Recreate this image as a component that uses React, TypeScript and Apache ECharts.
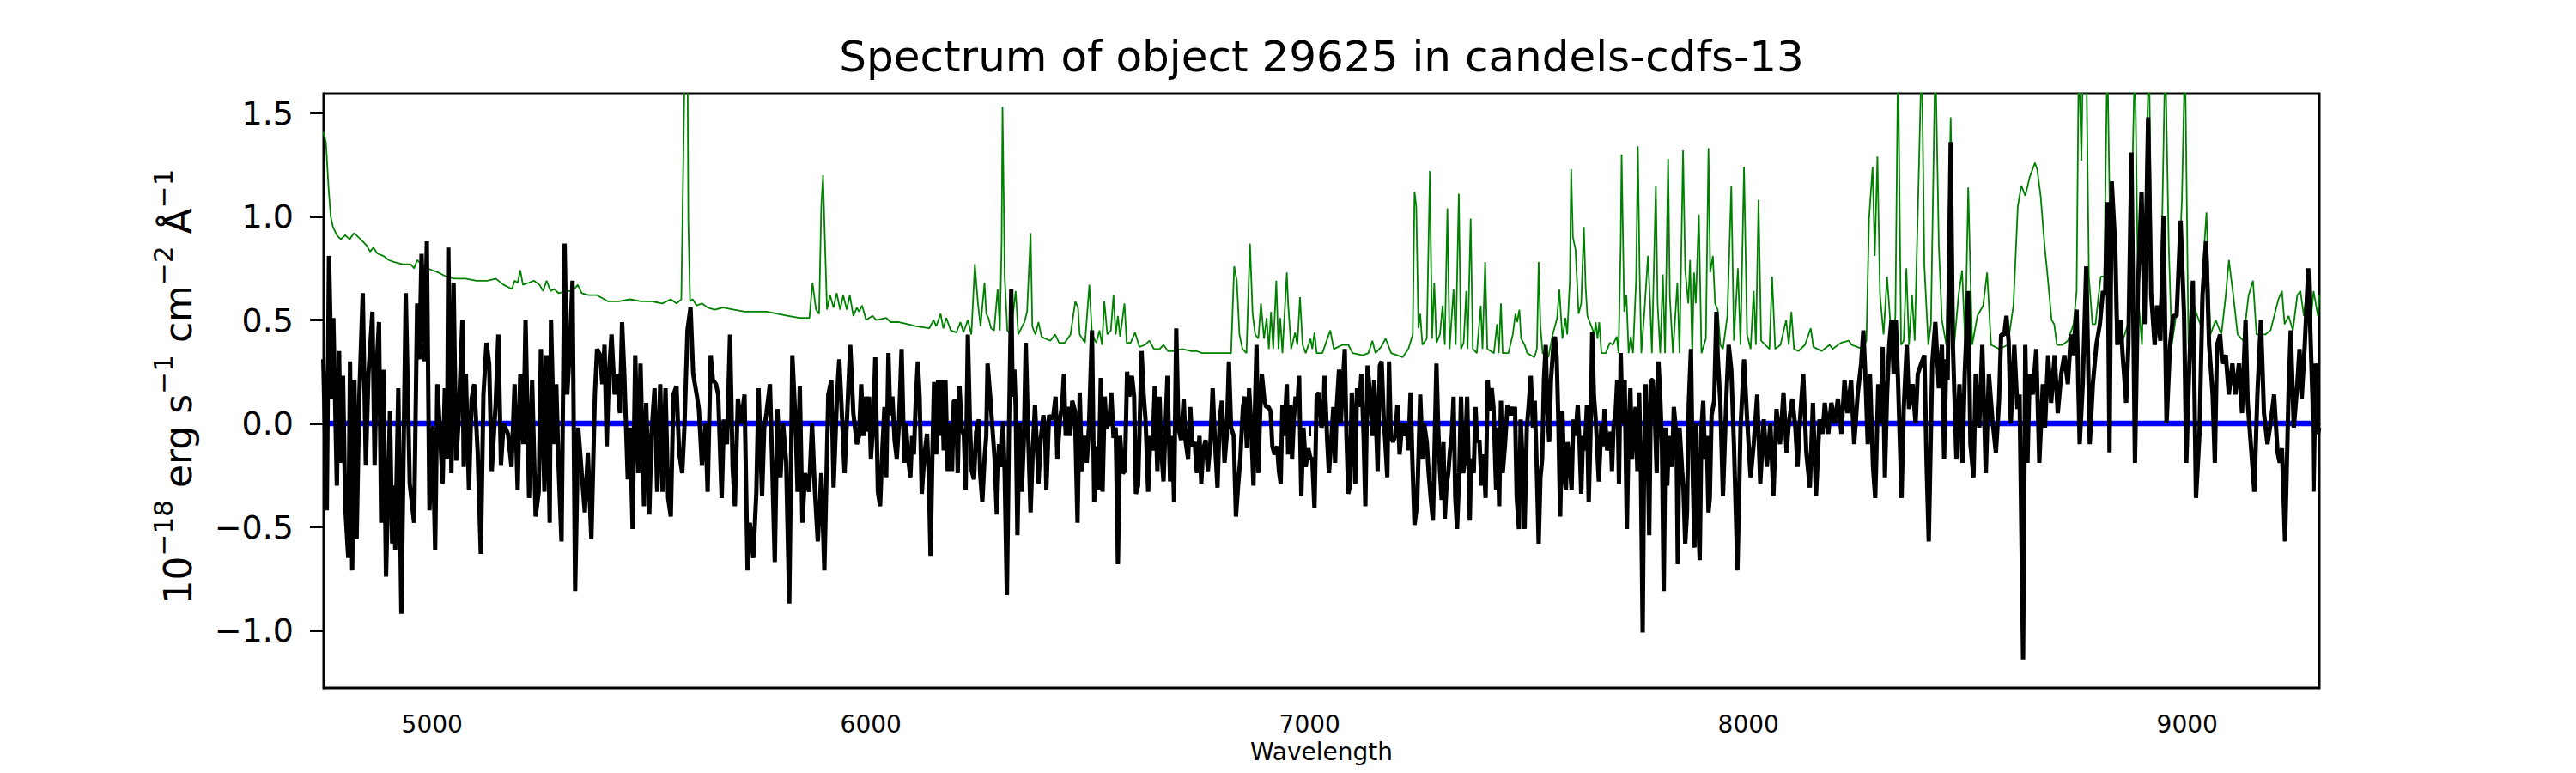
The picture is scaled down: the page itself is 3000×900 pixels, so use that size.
import React, { useEffect, useRef } from 'react';
import * as echarts from 'echarts';

const FONT = 'DejaVu Sans';
const titleText = 'Spectrum of object 29625 in candels-cdfs-13';
const xName = 'Wavelength';
const xTicks = [5000, 6000, 7000, 8000, 9000];
const yTicks = [-1, -0.5, 0, 0.5, 1, 1.5];
const xRange = [4753, 9301];
const yRange = [-1.278, 1.594];

// zero reference line
const zeroLine: [number, number][] = [[4753, 0], [9301, 0]];

// green (sky / noise) spectrum
const skySpectrum: [number, number][] = [
  [4752,1.41],[4758,1.36],[4764,1.14],[4769,1.0],[4774,0.95],[4783,0.91],[4792,0.89],[4802,0.91],[4812,0.89],[4822,0.92],
  [4832,0.9],[4842,0.88],[4851,0.86],[4859,0.83],[4866,0.85],[4876,0.82],[4889,0.81],[4901,0.79],[4914,0.78],[4933,0.77],
  [4951,0.77],[4959,0.75],[4966,0.79],[4976,0.77],[4989,0.75],[5001,0.74],[5014,0.73],[5032,0.71],[5051,0.7],[5076,0.7],
  [5101,0.69],[5126,0.69],[5145,0.7],[5163,0.67],[5182,0.65],[5188,0.69],[5195,0.68],[5201,0.74],[5207,0.67],[5220,0.68],
  [5232,0.69],[5245,0.67],[5253,0.64],[5261,0.69],[5270,0.64],[5278,0.65],[5288,0.63],[5307,0.64],[5320,0.64],[5332,0.67],
  [5341,0.63],[5357,0.62],[5376,0.62],[5401,0.59],[5426,0.59],[5451,0.6],[5476,0.59],[5500,0.59],[5525,0.58],[5544,0.6],
  [5557,0.58],[5568,0.6],[5573,1.33],[5576,1.8],[5582,1.8],[5584,0.98],[5588,0.59],[5594,0.6],[5603,0.57],[5615,0.58],
  [5628,0.56],[5644,0.55],[5663,0.56],[5688,0.55],[5713,0.54],[5738,0.54],[5762,0.54],[5787,0.53],[5812,0.52],[5837,0.51],
  [5860,0.51],[5867,0.68],[5875,0.55],[5882,0.53],[5887,1.05],[5891,1.2],[5895,0.9],[5900,0.55],[5907,0.62],[5915,0.56],
  [5922,0.63],[5930,0.55],[5937,0.62],[5945,0.55],[5952,0.62],[5960,0.52],[5968,0.56],
  [5973,0.54],[5980,0.57],[5989,0.5],[6004,0.52],[6012,0.5],[6035,0.51],[6045,0.49],[6064,0.49],[6084,0.48],[6103,0.47],
  [6133,0.46],[6143,0.5],[6149,0.47],[6159,0.53],[6165,0.46],[6172,0.51],[6182,0.45],[6195,0.44],[6204,0.49],[6211,0.44],
  [6221,0.5],[6229,0.43],[6237,0.77],[6244,0.58],[6250,0.47],[6259,0.68],[6263,0.53],[6268,0.51],[6274,0.46],[6281,0.45],
  [6289,0.65],[6294,0.45],[6298,0.88],[6300,1.53],[6303,1.07],[6305,0.71],[6311,0.45],[6319,0.43],[6330,0.64],[6336,0.43],
  [6345,0.47],[6350,0.49],[6356,0.54],[6364,0.92],[6368,0.47],[6375,0.43],[6382,0.49],[6389,0.42],[6397,0.41],[6409,0.4],
  [6420,0.43],[6429,0.39],[6442,0.39],[6455,0.43],[6466,0.59],[6472,0.56],[6476,0.43],[6488,0.39],[6498,0.67],[6504,0.43],
  [6514,0.39],[6521,0.45],[6527,0.38],[6532,0.59],[6539,0.43],[6547,0.45],[6553,0.62],[6558,0.43],[6563,0.52],[6568,0.42],
  [6578,0.58],[6583,0.39],[6592,0.39],[6602,0.44],[6612,0.37],[6625,0.38],[6635,0.4],[6645,0.36],[6658,0.36],[6667,0.38],
  [6677,0.35],[6690,0.35],[6710,0.36],[6729,0.35],[6742,0.35],[6755,0.34],[6788,0.34],[6821,0.34],[6828,0.76],[6834,0.69],
  [6840,0.43],[6847,0.36],[6856,0.34],[6864,0.87],[6870,0.53],[6876,0.43],[6883,0.41],[6889,0.58],[6896,0.41],[6902,0.51],
  [6907,0.36],[6912,0.54],[6917,0.36],[6924,0.69],[6929,0.36],[6933,0.51],[6938,0.34],[6948,0.73],
  [6951,0.58],[6958,0.36],[6967,0.44],[6972,0.38],[6978,0.61],[6984,0.38],[6991,0.34],[7002,0.41],[7006,0.36],[7011,0.44],
  [7016,0.34],[7029,0.34],[7047,0.45],[7055,0.36],[7065,0.37],[7075,0.38],[7088,0.38],[7098,0.34],[7121,0.33],[7134,0.34],
  [7143,0.4],[7150,0.34],[7163,0.37],[7173,0.41],[7186,0.34],[7212,0.32],[7225,0.36],[7235,0.43],[7239,1.12],[7243,1.05],
  [7248,0.46],[7252,0.53],[7257,0.38],[7267,0.41],[7274,1.22],[7279,0.41],[7284,0.68],[7289,0.39],[7297,0.43],[7303,0.57],
  [7308,0.38],[7314,1.04],[7319,0.36],[7328,0.65],[7333,0.38],[7340,1.11],[7345,0.36],[7351,0.39],[7357,0.64],[7360,0.36],
  [7367,0.99],[7372,0.36],[7381,0.34],[7390,0.57],[7394,0.36],[7400,0.78],[7405,0.36],[7420,0.34],[7427,0.48],[7431,0.34],
  [7436,0.58],[7440,0.34],[7453,0.34],[7463,0.43],[7469,0.53],[7473,0.49],[7478,0.55],[7482,0.41],[7490,0.38],[7496,0.34],
  [7512,0.32],[7518,0.36],[7522,0.78],[7526,0.47],[7531,0.34],[7544,0.32],[7554,0.43],[7564,0.51],[7569,0.65],[7576,0.41],
  [7583,0.51],[7587,0.43],[7593,0.69],[7596,1.23],[7600,0.9],[7606,0.84],[7613,0.53],[7619,0.58],[7625,0.95],[7629,0.66],
  [7633,0.52],[7642,0.47],[7649,0.43],[7652,0.49],[7656,0.41],[7660,0.49],[7665,0.34],[7675,0.34],[7684,0.39],[7691,0.38],
  [7700,0.42],[7704,0.34],[7709,0.88],[7711,1.3],[7717,0.54],[7722,0.62],[7727,0.34],[7732,0.42],[7737,0.34],[7744,0.69],
  [7748,1.34],[7752,0.73],[7756,0.34],[7763,0.54],[7771,0.81],[7776,0.58],[7780,0.34],[7789,1.15],[7793,0.58],[7799,0.34],
  [7805,0.72],[7810,0.34],[7817,1.28],[7821,0.61],[7828,0.34],[7838,0.68],[7843,0.34],[7851,1.32],[7856,0.74],[7863,0.58],
  [7867,0.79],[7872,0.34],[7876,0.73],[7880,0.58],[7887,1.01],[7893,0.34],[7903,0.41],[7909,1.33],[7913,0.73],[7919,0.81],
  [7924,0.58],
  [7930,0.55],[7936,0.38],[7942,0.36],[7952,0.52],[7961,1.15],[7967,0.4],[7976,0.75],[7982,0.38],[7990,1.24],[7997,0.43],
  [8005,0.36],[8012,0.64],[8017,0.38],[8023,1.08],[8029,0.4],[8048,0.36],[8054,0.71],[8061,0.36],[8073,0.38],[8086,0.5],
  [8092,0.38],[8098,0.54],[8104,0.36],[8114,0.35],[8129,0.38],[8142,0.46],[8148,0.37],[8167,0.35],[8185,0.38],[8192,0.36],
  [8211,0.39],[8229,0.4],[8235,0.38],[8248,0.37],[8260,0.36],[8269,0.4],[8275,0.99],[8283,1.24],[8288,0.81],[8294,1.29],
  [8300,0.62],[8308,0.43],[8316,0.71],[8323,0.5],[8329,0.38],[8335,0.52],[8341,1.8],[8348,0.38],[8354,0.4],[8360,0.75],
  [8366,0.38],[8373,0.62],[8379,0.4],[8395,1.8],[8401,0.76],[8410,0.38],[8416,0.48],[8426,1.8],[8434,0.86],[8441,0.5],
  [8451,0.38],[8461,1.48],[8469,0.38],[8479,0.62],[8487,0.74],[8494,0.38],[8501,1.14],[8510,0.38],[8522,0.52],[8535,0.57],
  [8544,0.73],[8553,0.38],[8572,0.36],[8591,0.38],[8604,0.57],[8614,1.05],[8622,1.15],[8631,1.1],[8641,1.19],[8653,1.26],
  [8658,1.23],[8666,1.1],[8675,0.86],[8682,0.71],[8691,0.5],[8697,0.48],[8703,0.38],[8716,0.38],[8728,0.4],[8741,0.48],
  [8748,0.64],[8753,1.8],[8759,1.27],[8763,1.8],[8770,1.8],[8776,0.71],[8784,0.48],[8791,0.48],[8803,0.71],[8811,0.71],
  [8818,1.8],[8826,0.67],[8831,1.17],[8838,0.38],[8853,0.4],[8868,0.5],[8881,1.8],[8888,0.62],[8897,0.38],[8903,0.9],
  [8913,1.8],[8920,0.57],[8928,0.38],[8940,0.62],[8950,1.8],[8958,0.86],[8965,0.38],[8978,0.57],[8988,1.08],[8995,1.8],
  [9003,0.38],[9015,0.57],[9023,0.52],[9030,0.48],[9035,0.73],[9044,1.02],[9053,0.43],[9065,0.5],[9078,0.43],[9088,0.62],
  [9095,0.79],[9105,0.62],[9115,0.43],[9128,0.4],[9140,0.62],[9150,0.69],[9158,0.43],[9178,0.43],[9190,0.45],[9208,0.6],
  [9216,0.64],[9222,0.48],[9231,0.52],[9241,0.45],[9251,0.62],[9258,0.64],[9266,0.52],[9276,0.71],[9281,0.48],[9288,0.64],
  [9298,0.52],[9301,0.62]
];

// black (object) spectrum
const objectSpectrum: [number, number][] = [
  [4752,0.31],[4760,-0.42],[4765,0.81],[4772,0.12],[4775,0.51],[4783,-0.3],[4788,0.35],[4792,-0.19],[4797,0.23],[4802,-0.4],
  [4809,-0.65],[4813,0.3],[4818,-0.71],[4823,0.21],[4828,-0.56],[4834,0.12],[4842,0.63],[4849,-0.2],[4855,0.24],[4864,0.54],
  [4869,-0.2],[4874,0.29],[4879,0.49],[4884,-0.48],[4889,0.26],[4895,-0.74],[4904,0.06],[4909,-0.58],[4913,-0.3],[4916,-0.61],
  [4923,0.17],[4930,-0.92],[4940,0.63],[4949,-0.29],[4959,-0.48],[4966,0.58],[4971,0.31],[4976,0.82],[4983,0.3],[4988,0.88],
  [4994,-0.42],[5001,-0.02],[5007,-0.61],[5012,0.19],[5017,0.0],[5024,-0.29],[5029,0.17],[5034,-0.17],[5037,0.85],[5044,-0.24],
  [5049,0.68],[5055,-0.18],[5060,0.0],[5069,0.5],[5072,-0.21],[5077,0.24],[5084,-0.32],[5090,0.12],[5096,0.19],[5104,-0.14],
  [5111,-0.63],[5117,0.14],[5124,0.39],[5130,0.29],[5136,-0.23],[5145,0.1],[5151,0.43],[5157,-0.2],[5163,0.0],[5173,-0.05],
  [5181,-0.21],[5188,0.19],[5195,-0.32],[5201,0.24],[5208,-0.1],[5213,0.5],[5221,-0.36],[5228,0.21],[5236,-0.45],[5243,-0.33],
  [5248,0.36],[5256,-0.33],[5261,0.33],[5263,0.12],[5268,-0.48],[5271,0.5],[5278,-0.1],[5283,0.19],[5288,-0.19],[5295,-0.57],
  [5302,0.87],[5308,0.14],[5313,0.33],[5320,0.69],[5326,-0.81],[5333,-0.02],[5341,-0.24],[5348,-0.43],[5355,-0.14],[5363,-0.56],
  [5371,0.14],[5376,0.36],[5383,0.33],[5388,0.19],[5393,0.38],[5398,-0.11],[5403,0.24],[5409,0.43],[5416,0.14],[5421,0.24],
  [5428,0.05],[5433,0.49],[5438,0.24],[5446,-0.27],[5451,-0.02],[5457,-0.51],[5463,0.33],[5470,-0.24],[5475,0.29],[5483,-0.4],
  [5488,0.1],[5495,-0.44],[5500,-0.05],[5507,0.17],[5513,-0.33],[5520,0.19],[5525,-0.33],[5532,0.17],[5538,-0.36],[5544,-0.45],
  [5550,0.14],[5557,0.18],[5563,-0.14],[5570,-0.24],[5575,-0.02],[5582,0.45],[5589,0.56],[5595,0.24],[5603,0.14],[5608,0.07],
  [5615,-0.2],[5623,0.0],[5628,-0.33],[5635,0.33],[5640,0.21],[5647,0.19],[5652,0.14],[5660,-0.36],[5665,0.02],[5672,-0.1],
  [5679,0.43],[5685,-0.21],[5690,-0.4],[5697,0.12],[5704,0.0],[5712,0.14],[5719,-0.71],[5724,-0.48],[5732,-0.65],[5739,-0.33],
  [5744,0.17],[5752,-0.35],[5757,-0.02],[5762,0.05],[5770,0.19],[5775,-0.19],[5781,-0.67],[5787,0.07],[5794,-0.26],[5800,0.0],
  [5807,-0.19],[5814,-0.87],[5821,0.33],[5828,0.02],[5833,-0.33],[5838,0.18],[5844,-0.48],[5850,-0.24],[5859,-0.33],[5866,0.0],
  [5872,-0.31],[5879,-0.57],[5887,-0.24],[5894,-0.71],[5903,0.14],[5910,0.21],[5915,-0.31],[5923,0.14],[5928,0.31],[5935,0.0],
  [5940,-0.24],[5948,0.14],[5953,0.38],[5960,0.05],[5968,-0.1],
  [5973,-0.06],[5978,0.19],[5983,-0.06],[5987,0.13],[5991,-0.04],[5996,0.13],[6000,-0.17],[6005,-0.02],[6010,0.32],[6016,-0.33],
  [6021,-0.4],[6026,-0.13],[6031,0.08],[6035,-0.26],[6040,0.34],[6044,0.04],[6049,0.13],[6054,-0.08],[6059,-0.17],[6064,0.0],
  [6070,0.36],[6076,-0.19],[6080,0.0],[6085,-0.17],[6090,-0.26],[6094,-0.06],[6098,-0.15],[6102,0.09],[6107,0.3],[6111,0.13],
  [6116,-0.34],[6122,-0.15],[6128,-0.05],[6132,-0.26],[6136,-0.64],[6140,-0.17],[6144,0.2],[6149,-0.15],[6153,0.21],[6157,-0.06],
  [6162,0.21],[6166,-0.13],[6170,0.21],[6175,-0.23],[6180,0.0],[6185,-0.23],[6189,0.11],[6194,0.11],[6198,-0.24],[6202,0.18],
  [6207,-0.02],[6212,-0.06],[6216,-0.32],[6221,0.43],[6226,-0.02],[6230,-0.23],[6235,-0.27],[6240,-0.04],[6246,0.02],[6249,-0.24],
  [6254,-0.38],[6259,-0.17],[6263,-0.06],[6266,0.29],[6272,0.13],[6277,-0.02],[6282,-0.17],[6287,-0.44],[6292,-0.1],[6297,-0.21],
  [6301,0.01],[6305,-0.24],[6310,-0.83],[6315,0.0],[6320,0.65],[6323,0.13],[6327,0.26],[6330,0.08],[6334,-0.54],[6339,0.0],
  [6344,-0.33],[6349,-0.06],[6353,0.39],[6359,-0.09],[6364,-0.43],[6369,-0.13],[6374,0.09],[6378,-0.09],[6382,-0.29],[6387,-0.08],
  [6393,0.04],[6397,-0.02],[6400,-0.32],[6406,0.04],[6411,0.02],[6416,0.04],[6421,0.13],[6425,-0.17],[6431,0.02],[6436,0.09],
  [6440,0.24],[6444,-0.06],[6449,0.08],[6454,-0.06],[6459,0.11],[6465,0.06],[6471,-0.48],[6476,0.15],[6481,-0.23],[6486,-0.06],
  [6492,-0.19],[6497,-0.02],[6504,0.45],[6509,-0.38],[6514,-0.11],[6519,-0.32],[6524,0.22],[6528,-0.33],[6533,0.13],[6537,-0.02],
  [6543,0.0],[6548,0.15],[6553,-0.07],[6558,-0.02],[6563,-0.68],[6568,-0.06],[6574,-0.24],[6579,-0.23],[6584,0.25],[6589,0.13],
  [6595,0.23],[6600,0.13],[6604,-0.34],[6609,-0.3],[6613,0.02],[6617,0.35],[6622,0.13],[6626,0.02],[6632,-0.33],[6637,-0.06],
  [6642,-0.13],[6647,0.18],[6653,-0.23],[6658,0.13],[6662,-0.13],[6667,-0.28],[6671,-0.04],[6676,0.23],[6682,-0.28],[6687,-0.06],
  [6691,-0.38],[6696,0.46],[6701,-0.02],[6707,-0.08],[6713,0.12],[6717,-0.08],[6723,-0.17],[6728,0.08],[6733,-0.11],[6738,-0.09],
  [6743,-0.24],[6749,-0.06],[6753,-0.29],[6757,-0.13],[6763,-0.08],[6768,-0.23],[6774,-0.09],[6779,0.17],[6784,-0.08],[6790,-0.31],
  [6795,0.02],[6800,0.11],[6806,-0.19],[6811,-0.06],[6816,0.3],[6821,-0.02],[6827,-0.06],[6832,-0.45],[6837,-0.3],[6842,-0.17],
  [6848,0.08],[6852,0.13],[6857,-0.12],[6862,0.17],[6866,0.02],[6872,-0.3],[6876,0.13],[6879,0.38],[6883,-0.24],[6887,0.04],
  [6891,0.24],[6897,0.11],[6901,0.08],[6906,0.08],[6911,0.06],[6915,-0.11],[6920,-0.15],[6926,-0.11],[6930,-0.23],[6934,-0.29],
  [6938,0.09],[6942,-0.06],[6948,0.19],
  [6951,-0.15],[6956,0.09],[6960,-0.17],[6964,0.02],[6968,0.13],[6972,0.08],[6976,0.23],[6981,-0.35],[6986,-0.02],[6991,-0.21],
  [6997,-0.12],[7002,-0.17],[7006,-0.17],[7011,-0.41],[7016,0.13],[7021,0.15],[7027,-0.02],[7031,0.02],[7034,0.23],[7040,-0.08],
  [7044,-0.24],[7049,-0.09],[7054,0.08],[7058,-0.19],[7062,0.09],[7067,0.26],[7071,0.0],[7075,0.17],[7080,0.36],[7084,-0.06],
  [7088,-0.34],[7092,-0.3],[7096,0.15],[7100,-0.02],[7104,-0.29],[7108,0.17],[7113,0.08],[7118,0.24],[7123,-0.06],[7127,-0.4],
  [7132,0.28],[7138,0.13],[7143,-0.06],[7147,0.21],[7151,0.02],[7155,-0.23],[7160,0.28],[7164,0.3],[7169,0.02],[7173,-0.11],
  [7177,-0.26],[7181,0.3],[7185,-0.06],[7190,-0.09],[7195,-0.06],[7200,0.09],[7205,-0.15],[7211,0.0],[7216,-0.06],[7221,0.0],
  [7225,-0.13],[7230,0.15],[7234,-0.17],[7239,-0.49],[7245,-0.39],[7248,-0.17],[7252,0.14],[7258,-0.17],[7261,0.0],[7267,-0.09],
  [7271,-0.23],[7276,-0.36],[7281,-0.47],[7285,-0.09],[7289,0.29],[7293,-0.02],[7297,-0.23],[7301,-0.37],[7305,-0.09],[7308,-0.46],
  [7312,-0.3],[7316,-0.24],[7320,-0.13],[7324,-0.06],[7328,0.13],[7332,-0.36],[7336,-0.51],[7341,-0.24],[7345,0.13],[7350,-0.24],
  [7354,-0.17],[7359,0.13],[7365,-0.47],[7368,-0.17],[7374,-0.24],[7378,0.08],[7382,-0.09],[7387,-0.08],[7392,-0.3],[7396,-0.15],
  [7401,-0.36],[7406,0.21],[7410,0.06],[7415,0.17],[7419,0.08],[7425,-0.32],[7428,-0.02],[7432,-0.4],[7436,0.11],[7440,-0.24],
  [7445,-0.11],[7451,0.09],[7456,0.04],[7460,0.08],[7464,0.04],[7468,0.08],[7472,-0.36],[7477,-0.51],[7481,0.02],[7485,-0.17],
  [7490,-0.51],[7495,-0.02],[7499,0.08],[7504,0.23],[7509,-0.02],[7513,0.11],[7517,-0.17],[7522,-0.58],[7526,-0.26],[7530,-0.17],
  [7534,0.21],[7538,0.38],[7542,0.06],[7546,-0.09],[7550,0.21],[7555,0.36],[7559,0.42],[7563,0.32],[7567,0.0],[7571,-0.45],
  [7576,0.06],[7580,-0.24],[7584,-0.32],[7588,-0.09],[7592,-0.17],[7597,-0.32],[7601,0.02],[7606,-0.06],[7611,0.09],[7615,-0.09],
  [7619,-0.34],[7623,-0.06],[7627,-0.13],[7632,0.09],[7636,-0.38],[7640,-0.06],[7644,0.44],[7648,0.13],[7652,0.02],[7656,-0.15],
  [7659,-0.28],[7665,0.0],[7669,-0.11],[7672,0.07],[7678,-0.13],[7682,-0.09],[7686,-0.04],[7689,-0.23],[7693,0.0],[7697,0.04],
  [7701,0.21],[7705,-0.29],[7709,0.34],[7713,0.0],[7718,0.21],[7723,-0.51],[7727,-0.04],[7731,0.17],[7735,-0.17],[7739,0.0],
  [7743,0.08],[7747,-0.23],[7751,0.15],[7755,-0.24],[7759,-1.01],[7762,-0.24],[7766,0.19],[7770,-0.06],[7774,-0.54],[7778,0.21],
  [7782,0.21],[7786,0.08],[7791,-0.24],[7795,0.3],[7799,0.13],[7803,-0.11],[7807,-0.81],[7811,-0.02],[7815,-0.3],[7819,-0.06],
  [7822,-0.13],[7826,-0.21],[7830,0.08],[7836,-0.06],[7839,-0.68],[7843,-0.02],[7849,-0.23],[7852,-0.32],[7856,-0.58],[7860,-0.43],
  [7864,0.09],[7869,0.36],[7873,-0.23],[7877,-0.6],[7881,0.0],[7885,-0.43],[7889,-0.66],[7893,-0.02],[7897,0.11],[7901,-0.17],
  [7905,-0.06],[7909,-0.43],[7912,-0.36],[7916,0.04],[7922,0.11],[7927,0.54],
  [7930,0.33],[7936,0.1],[7942,-0.35],[7950,0.14],[7955,0.38],[7961,0.26],[7967,-0.1],[7975,-0.71],[7982,-0.02],[7990,0.31],
  [7997,0.02],[8005,-0.26],[8012,-0.1],[8020,0.14],[8027,-0.29],[8035,0.02],[8042,-0.21],[8050,0.0],[8057,-0.35],[8064,0.07],
  [8072,-0.1],[8080,0.15],[8087,-0.14],[8092,0.0],[8100,0.12],[8107,-0.02],[8112,-0.21],[8117,0.0],[8125,0.24],[8132,-0.14],
  [8140,-0.31],[8147,0.1],[8154,-0.35],[8162,0.02],[8169,-0.05],[8174,0.1],[8182,-0.05],[8189,0.1],[8197,0.0],[8204,0.12],
  [8212,-0.05],[8219,0.21],[8226,0.05],[8234,0.21],[8241,-0.1],[8249,0.14],[8257,0.29],[8262,0.45],[8267,0.21],[8272,-0.1],
  [8277,0.24],[8284,-0.21],[8289,-0.36],[8296,0.19],[8301,0.0],[8306,0.37],[8311,-0.26],[8316,0.14],[8321,0.38],[8326,0.5],
  [8331,0.24],[8336,0.5],[8341,0.21],[8349,-0.36],[8354,0.07],[8361,0.38],[8366,0.07],[8374,0.19],[8381,0.0],[8386,0.24],
  [8394,0.29],[8401,0.33],[8406,-0.19],[8411,-0.57],[8419,0.29],[8426,0.49],[8434,0.17],[8441,0.38],[8446,-0.17],[8451,0.31],
  [8454,0.21],[8461,1.36],[8466,0.38],[8474,-0.17],[8481,0.19],[8488,-0.19],[8493,0.24],[8501,0.64],[8506,-0.1],[8513,-0.26],
  [8518,0.24],[8526,-0.02],[8533,0.38],[8541,-0.24],[8548,0.24],[8556,0.02],[8564,-0.14],[8571,0.1],[8576,0.43],[8583,0.43],
  [8588,0.52],[8593,0.4],[8598,0.0],[8606,0.38],[8613,0.07],[8618,0.14],[8626,-1.14],[8631,0.38],[8636,-0.19],[8641,0.24],
  [8648,0.14],[8656,0.36],[8663,-0.19],[8671,0.19],[8676,-0.02],[8683,0.33],[8690,0.1],[8698,0.33],[8705,0.05],[8713,0.24],
  [8720,0.33],[8728,0.19],[8735,0.43],[8740,0.33],[8748,0.55],[8755,-0.1],[8762,0.19],[8770,0.76],[8778,-0.1],[8785,0.19],
  [8793,0.38],[8801,0.48],[8808,0.64],[8813,0.62],[8818,1.07],[8823,-0.14],[8828,1.17],[8836,0.86],[8841,0.38],[8848,0.5],
  [8853,0.33],[8861,0.1],[8866,0.38],[8873,1.31],[8881,-0.19],[8888,0.67],[8896,1.12],[8903,0.48],[8911,1.48],[8918,0.62],
  [8926,0.38],[8931,0.57],[8939,0.4],[8946,1.0],[8953,0.0],[8961,0.38],[8968,0.52],[8976,0.52],[8985,0.98],[8993,0.52],
  [8998,-0.19],[9005,0.29],[9013,0.69],[9020,-0.36],[9028,-0.05],[9035,0.62],[9043,0.88],[9050,0.38],[9058,0.14],[9063,-0.19],
  [9068,0.38],[9075,0.43],[9080,0.29],[9088,0.33],[9095,0.14],[9103,0.29],[9110,0.14],[9118,0.29],[9125,0.05],[9133,0.5],
  [9138,0.1],[9145,-0.1],[9153,-0.33],[9160,0.14],[9168,0.5],[9175,0.05],[9183,-0.1],[9190,0.0],[9198,0.14],[9206,-0.14],
  [9211,-0.19],[9216,-0.12],[9223,-0.57],[9231,0.14],[9236,0.45],[9243,-0.02],[9251,0.19],[9256,0.36],[9261,0.12],[9268,0.38],
  [9276,0.75],[9281,0.43],[9286,0.1],[9288,-0.33],[9293,0.29],[9298,-0.05],[9301,-0.02]
];

const yLabelRich =
  '{b|10}{s|\u221218}{b| erg s}{s|\u22121}{b| cm}{s|\u22122}{b| \u00c5}{s|\u22121}';

function fmtY(v: number): string {
  const s = Math.abs(v).toFixed(1);
  return v < -1e-9 ? '\u2212' + s : s;
}

export default function App() {
  const ref = useRef<HTMLDivElement>(null);

  useEffect(() => {
    document.body.style.margin = '0';
    const el = ref.current;
    if (!el) return;
    const chart = echarts.init(el, null, { renderer: 'svg' });
    const option: any = {
      animation: false,
      backgroundColor: '#ffffff',
      grid: {
        left: 377,
        top: 109,
        width: 2324,
        height: 692,
        show: true,
        borderColor: '#000',
        borderWidth: 3,
        backgroundColor: 'transparent'
      },
      xAxis: {
        type: 'value',
        min: xRange[0],
        max: xRange[1],
        axisLine: { show: true, lineStyle: { color: '#000', width: 3 } },
        splitLine: { show: false },
        axisTick: {
          show: true,
          length: 15,
          lineStyle: { color: '#000', width: 3 },
          customValues: xTicks
        },
        axisLabel: {
          customValues: xTicks,
          fontSize: 28,
          fontFamily: FONT,
          color: '#000',
          margin: 28,
          formatter: (v: number) => String(v)
        }
      },
      yAxis: {
        type: 'value',
        min: yRange[0],
        max: yRange[1],
        axisLine: { show: true, lineStyle: { color: '#000', width: 3 } },
        splitLine: { show: false },
        axisTick: {
          show: true,
          length: 16,
          lineStyle: { color: '#000', width: 3 },
          customValues: yTicks
        },
        axisLabel: {
          customValues: yTicks,
          fontSize: 38,
          fontFamily: FONT,
          color: '#000',
          margin: 35,
          formatter: fmtY
        }
      },
      series: [
        {
          type: 'line',
          name: 'sky',
          data: skySpectrum,
          showSymbol: false,
          symbol: 'none',
          silent: true,
          clip: true,
          lineStyle: { color: '#008000', width: 1.8 }
        },
        {
          type: 'line',
          name: 'zero',
          data: zeroLine,
          showSymbol: false,
          symbol: 'none',
          silent: true,
          lineStyle: { color: '#0000ff', width: 6.5 }
        },
        {
          type: 'line',
          name: 'object',
          data: objectSpectrum,
          showSymbol: false,
          symbol: 'none',
          silent: true,
          clip: true,
          lineStyle: { color: '#000000', width: 5 }
        }
      ],
      graphic: [
        {
          type: 'text',
          x: 1539,
          y: 66,
          style: {
            text: titleText,
            fontSize: 50,
            fontFamily: FONT,
            fill: '#000',
            align: 'center',
            verticalAlign: 'middle'
          }
        },
        {
          type: 'text',
          x: 1539,
          y: 875,
          style: {
            text: xName,
            fontSize: 28,
            fontFamily: FONT,
            fill: '#000',
            align: 'center',
            verticalAlign: 'middle'
          }
        },
        {
          type: 'text',
          x: 202,
          y: 450,
          rotation: Math.PI / 2,
          style: {
            text: yLabelRich,
            fontSize: 44,
            fontFamily: FONT,
            fill: '#000',
            align: 'center',
            verticalAlign: 'middle',
            rich: {
              b: { fontSize: 44, fontFamily: FONT, fill: '#000', verticalAlign: 'bottom' },
              s: { fontSize: 31, fontFamily: FONT, fill: '#000', verticalAlign: 'bottom', padding: [0, 0, 24, 0] }
            }
          }
        }
      ]
    };
    chart.setOption(option);
    return () => chart.dispose();
  }, []);

  return <div ref={ref} style={{ width: 3000, height: 900 }} />;
}
